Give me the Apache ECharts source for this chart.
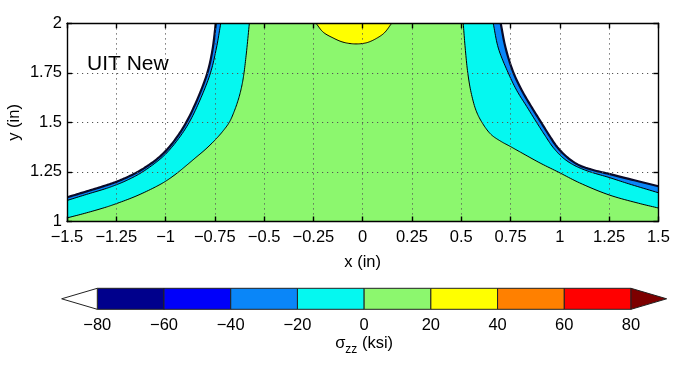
<!DOCTYPE html>
<html><head><meta charset="utf-8">
<script src="https://cdn.jsdelivr.net/npm/echarts@6/dist/echarts.min.js"></script>
<style>html,body{margin:0;padding:0;background:#fff}#c{width:695px;height:373px}</style>
</head><body><div id="c"></div>
<script>
const FONT = '"Liberation Sans", Arial, Helvetica, sans-serif';

// contour boundaries: [x (in), y (in)]
const whiteLeft = [[-1.5,1.122],[-1.4,1.152],[-1.3,1.183],[-1.25,1.200],[-1.2,1.221],[-1.141,1.25],[-1.1,1.275],[-1.05,1.31],[-1.0,1.355],[-0.95,1.415],[-0.895,1.5],[-0.835,1.625],[-0.788,1.75],[-0.763,1.86],[-0.745,2.0]];
const blueLeft = [[-1.5,1.106],[-1.4,1.137],[-1.3,1.167],[-1.25,1.185],[-1.2,1.206],[-1.13,1.242],[-1.05,1.297],[-1.0,1.34],[-0.94,1.41],[-0.88,1.5],[-0.82,1.625],[-0.772,1.75],[-0.742,1.875],[-0.72,2.0]];
const cyanLeft = [[-1.5,1.018],[-1.4,1.044],[-1.3,1.073],[-1.25,1.09],[-1.15,1.128],[-1.05,1.175],[-1.0,1.203],[-0.947,1.24],[-0.9,1.278],[-0.85,1.32],[-0.8,1.362],[-0.75,1.41],[-0.71,1.455],[-0.677,1.5],[-0.652,1.555],[-0.628,1.625],[-0.612,1.69],[-0.602,1.75],[-0.59,1.85],[-0.575,2.0]];
const whiteRight = [[0.70,2.0],[0.725,1.875],[0.765,1.75],[0.808,1.66],[0.855,1.58],[0.905,1.5],[0.946,1.435],[0.987,1.375],[1.04,1.322],[1.096,1.285],[1.16,1.262],[1.25,1.24],[1.35,1.215],[1.5,1.178]];
const blueRight = [[0.662,2.0],[0.688,1.875],[0.738,1.75],[0.782,1.66],[0.832,1.58],[0.882,1.5],[0.924,1.435],[0.965,1.375],[1.015,1.322],[1.07,1.285],[1.14,1.255],[1.25,1.222],[1.35,1.19],[1.5,1.145]];
const cyanRight = [[0.51,2.0],[0.52,1.875],[0.533,1.75],[0.55,1.65],[0.575,1.56],[0.605,1.5],[0.65,1.44],[0.70,1.405],[0.746,1.38],[0.8,1.35],[0.9,1.295],[0.991,1.25],[1.1,1.195],[1.25,1.134],[1.4,1.092],[1.5,1.068]];
const yellowTop = [[-0.237,2.0],[-0.2,1.955],[-0.15,1.926],[-0.1,1.905],[-0.04,1.896],[0.02,1.902],[0.07,1.924],[0.11,1.952],[0.147,2.0]];

// colour bar
const cbEdges = [-80,-60,-40,-20,0,20,40,60,80];
const cbColors = ['#00008C','#0000FA','#0A86F8','#05F8F0','#8CF76E','#FFFF00','#FF8000','#FF0000'];
const cbUnder = '#FFFFFF';
const cbOver = '#7D0000';
const plotLabel = 'UIT New';
const xName = 'x (in)';
const yName = 'y (in)';

const C = {darkBlue: cbColors[2], cyan: cbColors[3], green: cbColors[4], yellow: cbColors[5]};
const fmt = v => String(v).replace('-', '\u2212');

// centripetal Catmull-Rom through pixel points (rendering only, smooth contour drawing)
function smoothPx(P) {
  if (P.length < 3) return P;
  const ext = [[2*P[0][0]-P[1][0], 2*P[0][1]-P[1][1]]].concat(P, [[2*P[P.length-1][0]-P[P.length-2][0], 2*P[P.length-1][1]-P[P.length-2][1]]]);
  const out = [];
  const dist = (a,b) => Math.max(Math.pow(Math.hypot(b[0]-a[0], b[1]-a[1]), 0.5), 1e-4);
  const mix = (a,b,wa,wb) => [a[0]*wa + b[0]*wb, a[1]*wa + b[1]*wb];
  for (let i = 1; i < ext.length - 2; i++) {
    const p0 = ext[i-1], p1 = ext[i], p2 = ext[i+1], p3 = ext[i+2];
    const t0 = 0, t1 = t0 + dist(p0,p1), t2 = t1 + dist(p1,p2), t3 = t2 + dist(p2,p3);
    const n = 10;
    for (let k = 0; k < n; k++) {
      const t = t1 + (t2 - t1) * k / n;
      const A1 = mix(p0,p1,(t1-t)/(t1-t0),(t-t0)/(t1-t0));
      const A2 = mix(p1,p2,(t2-t)/(t2-t1),(t-t1)/(t2-t1));
      const A3 = mix(p2,p3,(t3-t)/(t3-t2),(t-t2)/(t3-t2));
      const B1 = mix(A1,A2,(t2-t)/(t2-t0),(t-t0)/(t2-t0));
      const B2 = mix(A2,A3,(t3-t)/(t3-t1),(t-t1)/(t3-t1));
      out.push(mix(B1,B2,(t2-t)/(t2-t1),(t-t1)/(t2-t1)));
    }
  }
  out.push(P[P.length-1]);
  return out;
}

function fill(curve, corner, color) {
  return {type:'custom', xAxisIndex:0, yAxisIndex:0, data:[[0,1.5]], silent:true, z:2, clip:true,
    renderItem:(p, api) => {
      const pts = smoothPx(curve.map(q => api.coord(q)));
      if (corner) pts.push(api.coord(corner));
      return {type:'polygon', shape:{points: pts}, style:{fill:color, stroke:null}};
    }};
}
function line(curve, w, color) {
  return {type:'custom', xAxisIndex:0, yAxisIndex:0, data:[[0,1.5]], silent:true, z:3, clip:true,
    renderItem:(p, api) => ({type:'polyline', shape:{points: smoothPx(curve.map(q => api.coord(q)))}, style:{stroke:color, lineWidth:w, fill:null}})};
}
const TL = [-1.5, 2], TR = [1.5, 2];

const axisCommon = {
  type:'value', z:10,
  axisLine:{show:true, onZero:false, lineStyle:{color:'#000', width:1.4}},
  axisTick:{show:true, inside:true, length:5, lineStyle:{color:'#000', width:1.4}},
  axisLabel:{color:'#000', fontSize:16.5, fontFamily:FONT, formatter:fmt},
  splitLine:{show:false}
};
const gridSplit = {show:true, lineStyle:{color:'#555', width:1, type:[1.2,3.8]}};

const option = {
  animation:false,
  backgroundColor:'#fff',
  grid:[
    {left:67, right:36.6, top:23.3, bottom:151.5, containLabel:false, outerBoundsMode:'none'},
    {left:97.3, width:533.7, top:288.3, height:21, containLabel:false, outerBoundsMode:'none'}
  ],
  xAxis:[
    Object.assign({}, axisCommon, {gridIndex:0, position:'bottom', min:-1.5, max:1.5, interval:0.25,
      axisLabel:Object.assign({}, axisCommon.axisLabel, {margin:7}), splitLine:gridSplit,
      name:xName, nameLocation:'middle', nameGap:32, nameMoveOverlap:false, nameTextStyle:{color:'#000', fontSize:16.5, fontFamily:FONT}}),
    Object.assign({}, axisCommon, {gridIndex:0, position:'top', min:-1.5, max:1.5, interval:0.25, axisLabel:{show:false}}),
    {type:'value', gridIndex:1, min:-80, max:80, interval:20, position:'bottom',
      axisLine:{show:false}, axisTick:{show:false}, splitLine:{show:false},
      axisLabel:{color:'#000', fontSize:16.5, fontFamily:FONT, margin:8, formatter:fmt},
      name:'{a|\u03c3}{b|zz}{a| (ksi)}', nameLocation:'middle', nameGap:22, nameMoveOverlap:false,
      nameTextStyle:{color:'#000', rich:{a:{fontSize:16.5, fontFamily:FONT, color:'#000'}, b:{fontSize:12, fontFamily:FONT, color:'#000', padding:[12,0,0,0]}}}}
  ],
  yAxis:[
    Object.assign({}, axisCommon, {gridIndex:0, position:'left', min:1, max:2, interval:0.25,
      axisLabel:Object.assign({}, axisCommon.axisLabel, {margin:5}), splitLine:gridSplit,
      name:yName, nameLocation:'middle', nameGap:44, nameMoveOverlap:false, nameTextStyle:{color:'#000', fontSize:16.5, fontFamily:FONT}}),
    Object.assign({}, axisCommon, {gridIndex:0, position:'right', min:1, max:2, interval:0.25, axisLabel:{show:false}}),
    {type:'value', gridIndex:1, min:0, max:1, show:false}
  ],
  graphic:[{type:'text', left:87, top:54, z:20, style:{text:plotLabel, fontSize:21, fontFamily:FONT, fill:'#000'}}],
  series:[
    fill([[-1.5,1],[1.5,1],[1.5,2],[-1.5,2]], null, C.green),
    fill(cyanLeft, TL, C.cyan),
    fill(blueLeft, TL, C.darkBlue),
    fill(whiteLeft, TL, '#fff'),
    fill(cyanRight, TR, C.cyan),
    fill(blueRight, TR, C.darkBlue),
    fill(whiteRight, TR, '#fff'),
    fill(yellowTop, null, C.yellow),
    line(cyanLeft, 1, '#000'),
    line(cyanRight, 1, '#000'),
    line(blueLeft, 1, '#000'),
    line(blueRight, 1, '#000'),
    line(whiteLeft, 2.2, '#0a0a28'),
    line(whiteRight, 2.2, '#0a0a28'),
    line(yellowTop, 1, '#000'),
    {type:'custom', xAxisIndex:2, yAxisIndex:2, silent:true, encode:{x:[0,1], y:2},
      data: cbColors.map((c, i) => [cbEdges[i], cbEdges[i+1], 0.5]),
      renderItem:(p, api) => {
        const a = api.coord([api.value(0), 0]), b = api.coord([api.value(1), 1]);
        return {type:'rect', shape:{x:a[0], y:b[1], width:b[0]-a[0], height:a[1]-b[1]},
          style:{fill:cbColors[p.dataIndex], stroke:'#222', lineWidth:1}};
      }},
    {type:'custom', xAxisIndex:2, yAxisIndex:2, silent:true, encode:{x:0, y:1},
      data:[[cbEdges[0], -1], [cbEdges[cbEdges.length-1], 1]],
      renderItem:(p, api) => {
        const span = cbEdges[cbEdges.length-1] - cbEdges[0];
        const base = api.value(0), dir = api.value(1);
        const tip = base + dir * span * 0.0668;
        const pts = [api.coord([base, 0]), api.coord([tip, 0.5]), api.coord([base, 1])];
        return {type:'polygon', shape:{points:pts}, style:{fill: dir < 0 ? cbUnder : cbOver, stroke:'#222', lineWidth:1}};
      }}
  ]
};
echarts.init(document.getElementById('c'), null, {renderer:'canvas'}).setOption(option);
</script></body></html>
